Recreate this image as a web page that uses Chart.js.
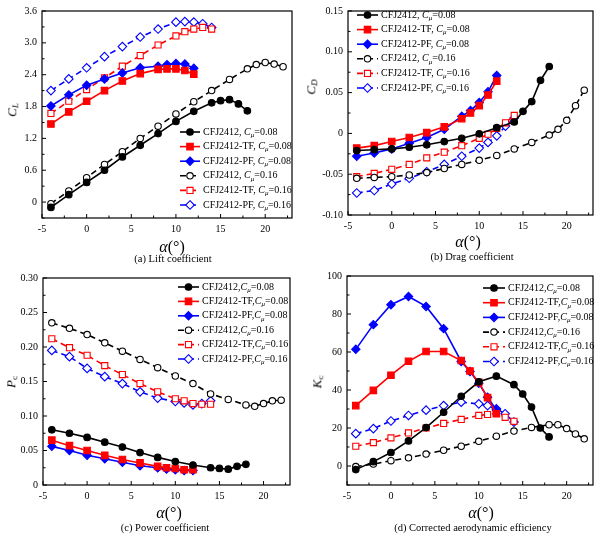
<!DOCTYPE html>
<html><head><meta charset="utf-8">
<script src="https://cdn.jsdelivr.net/npm/chart.js@4/dist/chart.umd.min.js"></script>
<style>
html,body{margin:0;padding:0;background:#fff;}
body{width:600px;height:535px;position:relative;overflow:hidden;font-family:"Liberation Serif","Times New Roman",serif;color:#000;}
canvas{position:absolute;}
.t{position:absolute;white-space:nowrap;transform:translate(-50%,-50%);line-height:1;}
.yt{transform:translate(-50%,-50%) rotate(-90deg);font-size:13px;}
.xt{font-size:16px;}
.cap{font-size:10.5px;}
sub{font-size:70%;vertical-align:-0.25em;}
</style></head><body>
<script>
// ---------- angles of attack (deg) ----------
const aoaBase08 = [-4,-2,0,2,4,6,8,10,12,14,15,16,17,18];
const aoaFlap08 = [-4,-2,0,2,4,6,8,9,10,11,12];
const aoaBase16 = [-4,-2,0,2,4,6,8,10,12,14,16,18,19,20,21,22];
const aoaFlap16 = [-4,-2,0,2,4,6,8,10,11,12,13,14];

// ---------- (a) lift coefficient ----------
const clBase08 = [-0.10,0.14,0.37,0.60,0.85,1.07,1.29,1.52,1.71,1.87,1.91,1.93,1.85,1.72];
const clTF08   = [1.47,1.70,1.90,2.10,2.28,2.42,2.50,2.51,2.51,2.48,2.41];
const clPF08   = [1.81,2.02,2.20,2.32,2.43,2.53,2.56,2.59,2.61,2.60,2.52];
const clBase16 = [-0.03,0.21,0.46,0.71,0.95,1.20,1.43,1.66,1.89,2.10,2.31,2.51,2.59,2.63,2.60,2.55];
const clTF16   = [1.67,1.90,2.12,2.34,2.56,2.76,2.96,3.13,3.21,3.26,3.29,3.26];
const clPF16   = [2.10,2.32,2.53,2.74,2.93,3.11,3.26,3.39,3.40,3.39,3.36,3.29];

// ---------- (b) drag coefficient ----------
const cdBase08 = [-0.021,-0.020,-0.019,-0.017,-0.014,-0.010,-0.006,-0.0005,0.007,0.014,0.027,0.039,0.065,0.082];
const cdTF08   = [-0.018,-0.015,-0.010,-0.005,0.001,0.008,0.018,0.025,0.034,0.047,0.064];
const cdPF08   = [-0.028,-0.024,-0.019,-0.012,-0.005,0.005,0.021,0.028,0.038,0.051,0.071];
const cdBase16 = [-0.055,-0.054,-0.053,-0.051,-0.048,-0.043,-0.038,-0.033,-0.027,-0.019,-0.011,-0.002,0.005,0.016,0.034,0.053];
const cdTF16   = [-0.053,-0.049,-0.044,-0.038,-0.030,-0.023,-0.015,-0.006,-0.001,0.006,0.013,0.022];
const cdPF16   = [-0.073,-0.070,-0.062,-0.055,-0.047,-0.038,-0.028,-0.018,-0.011,-0.003,0.009,0.019];

// ---------- (c) power coefficient ----------
const pcBase08 = [0.080,0.075,0.069,0.062,0.055,0.047,0.040,0.034,0.029,0.025,0.024,0.023,0.027,0.030];
const pcTF08   = [0.065,0.057,0.050,0.043,0.037,0.032,0.027,0.025,0.024,0.022,0.022];
const pcPF08   = [0.056,0.050,0.043,0.038,0.033,0.028,0.025,0.023,0.022,0.021,0.021];
const pcBase16 = [0.235,0.227,0.218,0.206,0.194,0.182,0.170,0.158,0.147,0.132,0.124,0.116,0.114,0.118,0.122,0.123];
const pcTF16   = [0.212,0.199,0.188,0.173,0.160,0.147,0.135,0.125,0.122,0.118,0.117,0.117];
const pcPF16   = [0.195,0.186,0.169,0.157,0.147,0.135,0.126,0.121,0.119,0.116,0.118,0.122];

// ---------- (d) corrected aerodynamic efficiency ----------
const kcBase08 = [-1.9,2.3,7.1,13.2,20.2,28.3,36.7,44.3,47.3,42.8,37.9,31.0,20.0,15.3];
const kcTF08   = [31.8,39.8,47.8,55.1,60.3,60.3,55.5,50.0,44.0,36.0,27.5];
const kcPF08   = [61.4,74.4,84.9,89.2,84.0,72.3,55.0,49.7,43.5,36.2,29.5];
const kcBase16 = [-0.3,1.0,2.8,4.3,6.3,8.3,10.4,13.0,15.7,18.4,20.3,21.7,21.7,19.7,16.9,14.3];
const kcTF16   = [10.4,12.3,14.8,17.4,20.0,22.4,24.5,26.6,27.1,27.7,25.6,23.5];
const kcPF16   = [17.0,19.7,23.7,26.6,29.4,31.8,33.6,32.7,31.8,30.1,27.5,23.1];

// ---------- tick labels ----------
const xTicks  = [-5,0,5,10,15,20];
const clTicks = [0,0.6,1.2,1.8,2.4,3.0,3.6];
const cdTicks = [-0.10,-0.05,0,0.05,0.10,0.15];
const pcTicks = [0,0.05,0.10,0.15,0.20,0.25,0.30];
const kcTicks = [0,20,40,60,80,100];

// ---------- series names ----------
const airfoils = ['CFJ2412','CFJ2412-TF','CFJ2412-PF'];
const cmuValues = ['0.08','0.16'];
const seriesAoa = [aoaBase08,aoaFlap08,aoaFlap08,aoaBase16,aoaFlap16,aoaFlap16];

// ---------- styles ----------
const FONT = '"Liberation Serif","Times New Roman",serif';
const seriesStyle = [
  {color:'#000000', pt:'circle',  r:3.3, open:false, dash:[]},
  {color:'#ff0000', pt:'rect',    r:4.6, open:false, dash:[]},
  {color:'#0000ff', pt:'rectRot', r:4.2, open:false, dash:[]},
  {color:'#000000', pt:'circle',  r:3.2, open:true,  dash:[6,4]},
  {color:'#ff0000', pt:'rect',    r:4.3, open:true,  dash:[6,4]},
  {color:'#0000ff', pt:'rectRot', r:4.3, open:true,  dash:[6,4]}
];

function drawMarker(ctx, st, x, y){
  ctx.save();
  ctx.setLineDash([]);
  ctx.lineWidth = 1.1;
  ctx.strokeStyle = st.color;
  ctx.fillStyle = st.open ? '#ffffff' : st.color;
  ctx.beginPath();
  const r = st.r;
  if (st.pt === 'circle') ctx.arc(x,y,r,0,Math.PI*2);
  else if (st.pt === 'rect') { const s = r*Math.SQRT1_2; ctx.rect(x-s,y-s,2*s,2*s); }
  else { ctx.moveTo(x,y-r); ctx.lineTo(x+r,y); ctx.lineTo(x,y+r); ctx.lineTo(x-r,y); ctx.closePath(); }
  ctx.fill(); ctx.stroke();
  ctx.restore();
}

const framePlugin = {
  id:'frame',
  afterDatasetsDraw(chart){
    const ctx = chart.ctx, a = chart.chartArea;
    ctx.save();
    ctx.strokeStyle = '#000'; ctx.lineWidth = 1.2; ctx.setLineDash([]);
    ctx.strokeRect(a.left, a.top, a.right-a.left, a.bottom-a.top);
    // inward ticks
    ctx.lineWidth = 1;
    const xs = chart.scales.x, ys = chart.scales.y;
    const xt = xs.ticks.map(t=>t.value), yt = ys.ticks.map(t=>t.value);
    const xstep = (xt[1]-xt[0])/2, ystep = (yt[1]-yt[0])/2;
    ctx.beginPath();
    for (let v = xt[0]; v <= xs.max + 1e-9; v += xstep){
      if (v < xs.min - 1e-9) continue;
      const px = xs.getPixelForValue(v);
      const major = xt.some(t=>Math.abs(t-v)<1e-9);
      ctx.moveTo(px, a.bottom); ctx.lineTo(px, a.bottom - (major?4:2.5));
    }
    let start = yt[0]; while (start - ystep >= ys.min - 1e-9) start -= ystep;
    for (let v = start; v <= ys.max + 1e-9; v += ystep){
      const py = ys.getPixelForValue(v);
      const major = yt.some(t=>Math.abs(t-v)<1e-9);
      ctx.moveTo(a.left, py); ctx.lineTo(a.left + (major?4:2.5), py);
    }
    ctx.stroke();
    ctx.restore();
  },
  afterDraw(chart){
    const cfg = chart.options.plugins.frame;
    if (!cfg) return;
    const ctx = chart.ctx;
    chart.data.datasets.forEach((ds,i)=>{
      const st = seriesStyle[i];
      const y = cfg.y + i*cfg.dy;
      ctx.save();
      ctx.strokeStyle = st.color; ctx.lineWidth = 1.6; ctx.setLineDash(st.dash);
      ctx.beginPath(); ctx.moveTo(cfg.x, y); ctx.lineTo(cfg.x+cfg.len, y); ctx.stroke();
      ctx.restore();
      drawMarker(ctx, st, cfg.x+cfg.len/2, y);
      let tx = cfg.x + cfg.len + 3;
      ctx.save();
      ctx.fillStyle = '#000'; ctx.textBaseline = 'middle'; ctx.textAlign = 'left';
      const name = airfoils[i%3] + cfg.sep;
      ctx.font = '10px ' + FONT; ctx.fillText(name, tx, y); tx += ctx.measureText(name).width;
      ctx.font = 'italic 10px ' + FONT; ctx.fillText('C', tx, y); tx += ctx.measureText('C').width;
      ctx.font = 'italic 7px ' + FONT; ctx.fillText('\u03bc', tx, y+3); tx += ctx.measureText('\u03bc').width;
      const rest = '=' + cmuValues[i<3?0:1];
      ctx.font = '10px ' + FONT; ctx.fillText(rest, tx, y);
      ctx.restore();
    });
  }
};

function makeDatasets(vals){
  return vals.map((v,i)=>{
    const st = seriesStyle[i];
    return {
      data: seriesAoa[i].map((a,k)=>({x:a, y:v[k]})),
      borderColor: st.color, borderWidth: 1.6, borderDash: st.dash,
      pointStyle: st.pt, pointRadius: st.r, pointBorderWidth: 1.1,
      pointBackgroundColor: st.open ? '#ffffff' : st.color, pointBorderColor: st.color,
      tension: 0, fill: false, order: i
    };
  });
}

const panels = [
  {left:0, top:0, w:300, h:265, area:{l:42,r:292,t:6,b:218}, ymin:-0.3, ymax:3.6, yt:clTicks, dec:1,
   vals:[clBase08,clTF08,clPF08,clBase16,clTF16,clPF16], legend:{x:180,y:132,dy:14.6,len:20,sep:', '},
   ytitle:'<i>C</i><sub><i>L</i></sub>', ytp:[13,110], xtp:[172,247], cap:'(a) Lift coefficient', cp:[173,259]},
  {left:300, top:0, w:300, h:265, area:{l:48,r:293,t:6,b:215}, ymin:-0.10, ymax:0.15, yt:cdTicks, dec:2,
   vals:[cdBase08,cdTF08,cdPF08,cdBase16,cdTF16,cdPF16], legend:{x:57,y:15,dy:14.6,len:21,sep:', '},
   ytitle:'<i>C</i><sub><i>D</i></sub>', ytp:[312,87], xtp:[468,242], cap:'(b) Drag coefficient', cp:[472,257]},
  {left:0, top:265, w:300, h:270, area:{l:43,r:290,t:13,b:220}, ymin:0, ymax:0.30, yt:pcTicks, dec:2,
   vals:[pcBase08,pcTF08,pcPF08,pcBase16,pcTF16,pcPF16], legend:{x:178,y:22,dy:14.4,len:21,sep:','},
   ytitle:'<i>P</i><sub>c</sub>', ytp:[12,382], xtp:[169,513], cap:'(c) Power coefficient', cp:[165,528]},
  {left:300, top:265, w:300, h:270, area:{l:47,r:293,t:9,b:220}, ymin:-10, ymax:100, yt:kcTicks, dec:0,
   vals:[kcBase08,kcTF08,kcPF08,kcBase16,kcTF16,kcPF16], legend:{x:183,y:23,dy:14.7,len:22,sep:','},
   ytitle:'<i>K</i><sub>c</sub>', ytp:[318,382], xtp:[481,513], cap:'(d) Corrected aerodynamic efficiency', cp:[473,528]}
];

function addText(cls, html, pos){
  const d = document.createElement('div');
  d.className = 't ' + cls; d.innerHTML = html;
  d.style.left = pos[0]+'px'; d.style.top = pos[1]+'px';
  document.body.appendChild(d);
}

const XAXIS_H = 20;
panels.forEach(p=>{
  const cv = document.createElement('canvas');
  cv.width = p.w; cv.height = p.h;
  cv.style.left = p.left+'px'; cv.style.top = p.top+'px';
  cv.style.width = p.w+'px'; cv.style.height = p.h+'px';
  document.body.appendChild(cv);
  const tickFont = {family: FONT, size: 10};
  new Chart(cv.getContext('2d'), {
    type:'line',
    data:{datasets: makeDatasets(p.vals)},
    options:{
      responsive:false, animation:false, events:[],
      layout:{padding:{left:0, right:p.w-p.area.r, top:p.area.t, bottom:p.h-p.area.b-XAXIS_H}},
      scales:{
        x:{type:'linear', min:-5, max:23,
           grid:{display:false, drawTicks:false}, border:{display:false},
           afterBuildTicks: s=>{ s.ticks = xTicks.map(v=>({value:v})); },
           afterFit: s=>{ s.height = XAXIS_H; },
           ticks:{color:'#000', font:tickFont, padding:5, maxRotation:0, autoSkip:false,
                  callback: v=>String(v)}},
        y:{type:'linear', min:p.ymin, max:p.ymax,
           grid:{display:false, drawTicks:false}, border:{display:false},
           afterBuildTicks: s=>{ s.ticks = p.yt.map(v=>({value:v})); },
           afterFit: s=>{ s.width = p.area.l; },
           ticks:{color:'#000', font:tickFont, padding:5, autoSkip:false,
                  callback: v=> (Math.abs(v)<1e-12 ? '0' : Number(v).toFixed(p.dec))}}
      },
      plugins:{legend:{display:false}, tooltip:{enabled:false}, frame:p.legend}
    },
    plugins:[framePlugin]
  });
  addText('yt', p.ytitle, p.ytp);
  addText('xt', '<i>\u03b1</i>(\u00b0)', p.xtp);
  addText('cap', p.cap, p.cp);
});
</script>
</body></html>
